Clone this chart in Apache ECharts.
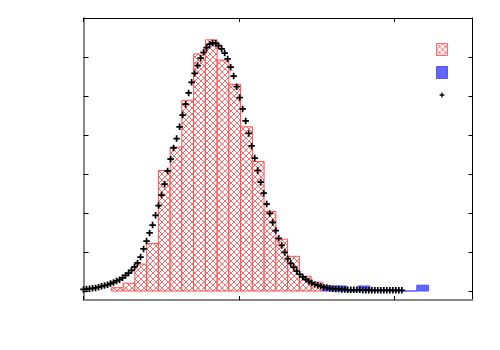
<!DOCTYPE html>
<html>
<head>
<meta charset="utf-8">
<script src="https://cdn.jsdelivr.net/npm/echarts@6/dist/echarts.min.js"></script>
<style>
  html, body { margin: 0; padding: 0; background: #fff; }
  #chart { width: 500px; height: 350px; }
</style>
</head>
<body>
<div id="chart"></div>
<script>
// histogram bins (left edge, height); all bins share one width
const binWidth = 0.0755;
const histLeft = [0.179, 0.255, 0.330, 0.406, 0.481, 0.557, 0.632, 0.708, 0.783,
  0.859, 0.934, 1.010, 1.085, 1.161, 1.236, 1.312, 1.387, 1.463];
const histHeight = [0.085, 0.20, 0.69, 1.22, 3.09, 3.69, 4.89, 6.08, 6.44,
  5.92, 5.30, 4.21, 3.32, 2.04, 1.33, 0.89, 0.38, 0.23];

const tailLeft = [1.538, 1.614, 1.689, 1.765, 1.840, 1.916, 1.991, 2.067, 2.142];
const tailHeight = [0.13, 0.13, 0, 0.13, 0, 0, 0, 0, 0.15];

// fitted curve, sampled on an even grid
const fitStart = 0;
const fitStep = 0.0193;
const fitY = [
  0.04, 0.05, 0.06, 0.07, 0.08, 0.10, 0.12, 0.14, 0.16, 0.19,
  0.22, 0.26, 0.29, 0.34, 0.40, 0.46, 0.53, 0.62, 0.72, 0.87,
  1.08, 1.28, 1.49, 1.69, 1.94, 2.19, 2.46, 2.74, 3.08, 3.38,
  3.67, 3.91, 4.21, 4.51, 4.79, 5.08, 5.35, 5.58, 5.78, 5.97,
  6.12, 6.24, 6.33, 6.36, 6.35, 6.29, 6.21, 6.10, 5.95, 5.74,
  5.51, 5.24, 4.96, 4.67, 4.36, 4.04, 3.72, 3.41, 3.09, 2.79,
  2.51, 2.23, 1.99, 1.76, 1.55, 1.35, 1.17, 0.99, 0.83, 0.71,
  0.61, 0.51, 0.43, 0.36, 0.30, 0.25, 0.21, 0.17, 0.15, 0.12,
  0.10, 0.09, 0.07, 0.06, 0.05, 0.05, 0.04,
  0.04, 0.03, 0.03, 0.03, 0.03, 0.03, 0.02, 0.02, 0.02, 0.02,
  0.02, 0.02, 0.02, 0.02, 0.02, 0.02, 0.02, 0.02, 0.02, 0.02
];

const xTicks = [0, 1, 2];
const yTicks = [0, 1, 2, 3, 4, 5, 6];

// crosshatch fill like gnuplot's pattern 2
const hatchCanvas = document.createElement('canvas');
hatchCanvas.width = 6;
hatchCanvas.height = 6;
const hctx = hatchCanvas.getContext('2d');
hctx.fillStyle = '#fff';
hctx.fillRect(0, 0, 6, 6);
hctx.strokeStyle = '#ff6a6a';
hctx.lineWidth = 1;
hctx.beginPath();
hctx.moveTo(0, 0); hctx.lineTo(6, 6);
hctx.moveTo(6, 0); hctx.lineTo(0, 6);
hctx.stroke();
const hatch = { image: hatchCanvas, repeat: 'repeat' };

const histData = histLeft.map((x, i) => [x, x + binWidth, histHeight[i]]);
const tailData = tailLeft.map((x, i) => [x, x + binWidth, tailHeight[i]]);
const fitData = fitY.map((y, i) => [fitStart + i * fitStep, y]);

const makeBars = (fill, stroke) => function (params, api) {
  const p0 = api.coord([api.value(0), 0]);
  const p1 = api.coord([api.value(1), api.value(2)]);
  return {
    type: 'rect',
    shape: { x: p0[0], y: p1[1], width: p1[0] - p0[0], height: p0[1] - p1[1] },
    style: { fill: fill, stroke: stroke, lineWidth: 1 }
  };
};

const plusSymbol = 'path://M0,2.2H2.2V0H3.8V2.2H6V3.8H3.8V6H2.2V3.8H0Z';
const plusIcon = 'path://M0,0M12,12M3.4,5.3H5.3V3.4H6.7V5.3H8.6V6.7H6.7V8.6H5.3V6.7H3.4Z';

const tickStyle = { color: '#000', width: 1 };

const chart = echarts.init(document.getElementById('chart'));
chart.setOption({
  animation: false,
  backgroundColor: '#fff',
  grid: { left: 83.5, right: 27.5, top: 18, bottom: 50 },
  legend: {
    left: 436, top: 43, orient: 'vertical', padding: 0,
    itemWidth: 11, itemHeight: 12, itemGap: 10,
    formatter: () => '',
    selectedMode: false,
    data: [
      { name: 'hist', icon: 'rect', itemStyle: { color: hatch, borderColor: '#ff6a6a', borderWidth: 1 } },
      { name: 'tail', icon: 'rect', itemStyle: { color: '#6464ff', borderColor: '#5555ff', borderWidth: 1 } },
      { name: 'fit', icon: plusIcon, itemStyle: { color: '#000', borderWidth: 0 } }
    ]
  },
  xAxis: [
    {
      type: 'value', min: 0, max: 2.5, position: 'bottom',
      axisLine: { onZero: false, lineStyle: { color: '#888', width: 2 } },
      axisTick: { inside: true, length: 4, customValues: xTicks, lineStyle: tickStyle },
      axisLabel: { show: false }, splitLine: { show: false }
    },
    {
      type: 'value', min: 0, max: 2.5, position: 'top',
      axisLine: { onZero: false, lineStyle: { color: '#000', width: 1 } },
      axisTick: { inside: true, length: 4, customValues: xTicks, lineStyle: tickStyle },
      axisLabel: { show: false }, splitLine: { show: false }
    }
  ],
  yAxis: [
    {
      type: 'value', min: -0.23, max: 7, position: 'left',
      axisLine: { show: true, onZero: false, lineStyle: { color: '#888', width: 2 } },
      axisTick: { show: true, inside: true, length: 5, customValues: yTicks, lineStyle: tickStyle },
      axisLabel: { show: false }, splitLine: { show: false }
    },
    {
      type: 'value', min: -0.23, max: 7, position: 'right',
      axisLine: { show: true, onZero: false, lineStyle: { color: '#000', width: 1 } },
      axisTick: { show: true, inside: true, length: 4, customValues: yTicks, lineStyle: tickStyle },
      axisLabel: { show: false }, splitLine: { show: false }
    }
  ],
  series: [
    {
      name: 'hist', type: 'custom', data: histData,
      encode: { x: [0, 1], y: 2 },
      itemStyle: { color: hatch, borderColor: '#ff6a6a' },
      renderItem: makeBars(hatch, '#ff5050')
    },
    {
      name: 'tail', type: 'custom', data: tailData,
      encode: { x: [0, 1], y: 2 },
      itemStyle: { color: '#6464ff', borderColor: '#5555ff' },
      renderItem: makeBars('#6464ff', '#5555ff')
    },
    {
      name: 'fit', type: 'scatter', data: fitData,
      symbol: plusSymbol, symbolSize: 6.5,
      itemStyle: { color: '#000', opacity: 1 }
    }
  ]
});
</script>
</body>
</html>
